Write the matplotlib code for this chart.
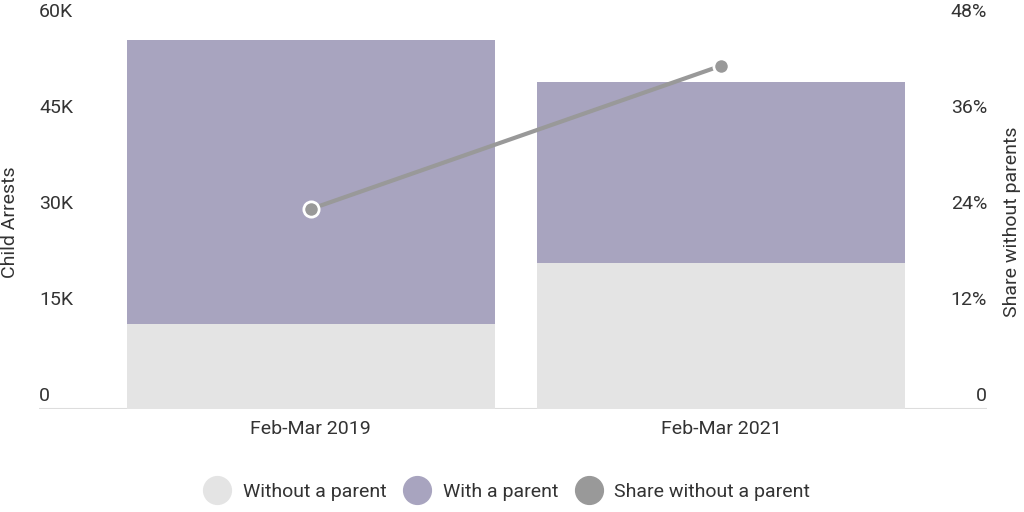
import matplotlib
matplotlib.use('Agg')
import matplotlib.pyplot as plt
from matplotlib.lines import Line2D
import numpy as np

plt.rcParams['font.family'] = ['Roboto', 'DejaVu Sans']

periods = ['Feb-Mar 2019', 'Feb-Mar 2021']
without_parent = [13300, 22800]
with_parent = [44300, 28300]
share_without = [25.0, 42.9]

left_ticks = [0, 15000, 30000, 45000, 60000]
left_labels = ['0', '15K', '30K', '45K', '60K']
right_ticks = [0, 12, 24, 36, 48]
right_labels = ['0', '12%', '24%', '36%', '48%']

c_without = '#e4e4e4'
c_with = '#a8a4bf'
c_line = '#999999'
c_text = '#333333'
fs = 14

fig = plt.figure(figsize=(10.24, 5.12), dpi=100)
ax = fig.add_axes([39 / 1024, 1 - 409 / 512, (987 - 39) / 1024, (409 - 25) / 512])
x = np.arange(len(periods))

ax.bar(x, without_parent, width=0.898, color=c_without, zorder=1)
ax.bar(x, with_parent, bottom=without_parent, width=0.898, color=c_with, zorder=1)
ax.set_xlim(-0.663, 1.649)
ax.set_ylim(0, 60000)

for s in ax.spines.values():
    s.set_visible(False)
ax.axhline(0, color='#dddddd', lw=1.5, zorder=0)
ax.set_yticks([])
ax.set_xticks(x)
ax.set_xticklabels(periods, fontsize=fs, color=c_text)
ax.tick_params(axis='x', length=0, pad=8)

# tick labels sit just above their level, inside the plot
for v, lab in zip(left_ticks, left_labels):
    ax.annotate(lab, xy=(0, v), xycoords=('axes fraction', 'data'),
                xytext=(0, 3), textcoords='offset points',
                ha='left', va='bottom', fontsize=fs, color=c_text)

ax2 = ax.twinx()
ax2.set_ylim(0, 48)
for s in ax2.spines.values():
    s.set_visible(False)
ax2.set_yticks([])
for v, lab in zip(right_ticks, right_labels):
    ax2.annotate(lab, xy=(1, v), xycoords=('axes fraction', 'data'),
                 xytext=(0, 3), textcoords='offset points',
                 ha='right', va='bottom', fontsize=fs, color=c_text)

ax2.plot(x, share_without, color=c_line, lw=3, marker='o', markersize=11,
         markerfacecolor=c_line, markeredgecolor='white', markeredgewidth=2, zorder=3)

fig.text(10 / 1024, 1 - 222 / 512, 'Child Arrests', rotation=90, ha='center', va='center',
         fontsize=fs, color=c_text)
fig.text(1012 / 1024, 1 - 222 / 512, 'Share without parents', rotation=90, ha='center',
         va='center', fontsize=fs, color=c_text)

handles = [
    Line2D([], [], ls='none', marker='o', markersize=20, color=c_without),
    Line2D([], [], ls='none', marker='o', markersize=20, color=c_with),
    Line2D([], [], ls='none', marker='o', markersize=20, color=c_line),
]
fig.legend(handles, ['Without a parent', 'With a parent', 'Share without a parent'],
           loc='center', bbox_to_anchor=(507 / 1024, 1 - 492 / 512), ncol=3, frameon=False,
           fontsize=fs, labelcolor=c_text, handletextpad=0.6, columnspacing=0.9,
           handlelength=1.4)

fig.savefig('out.png', dpi=100)
